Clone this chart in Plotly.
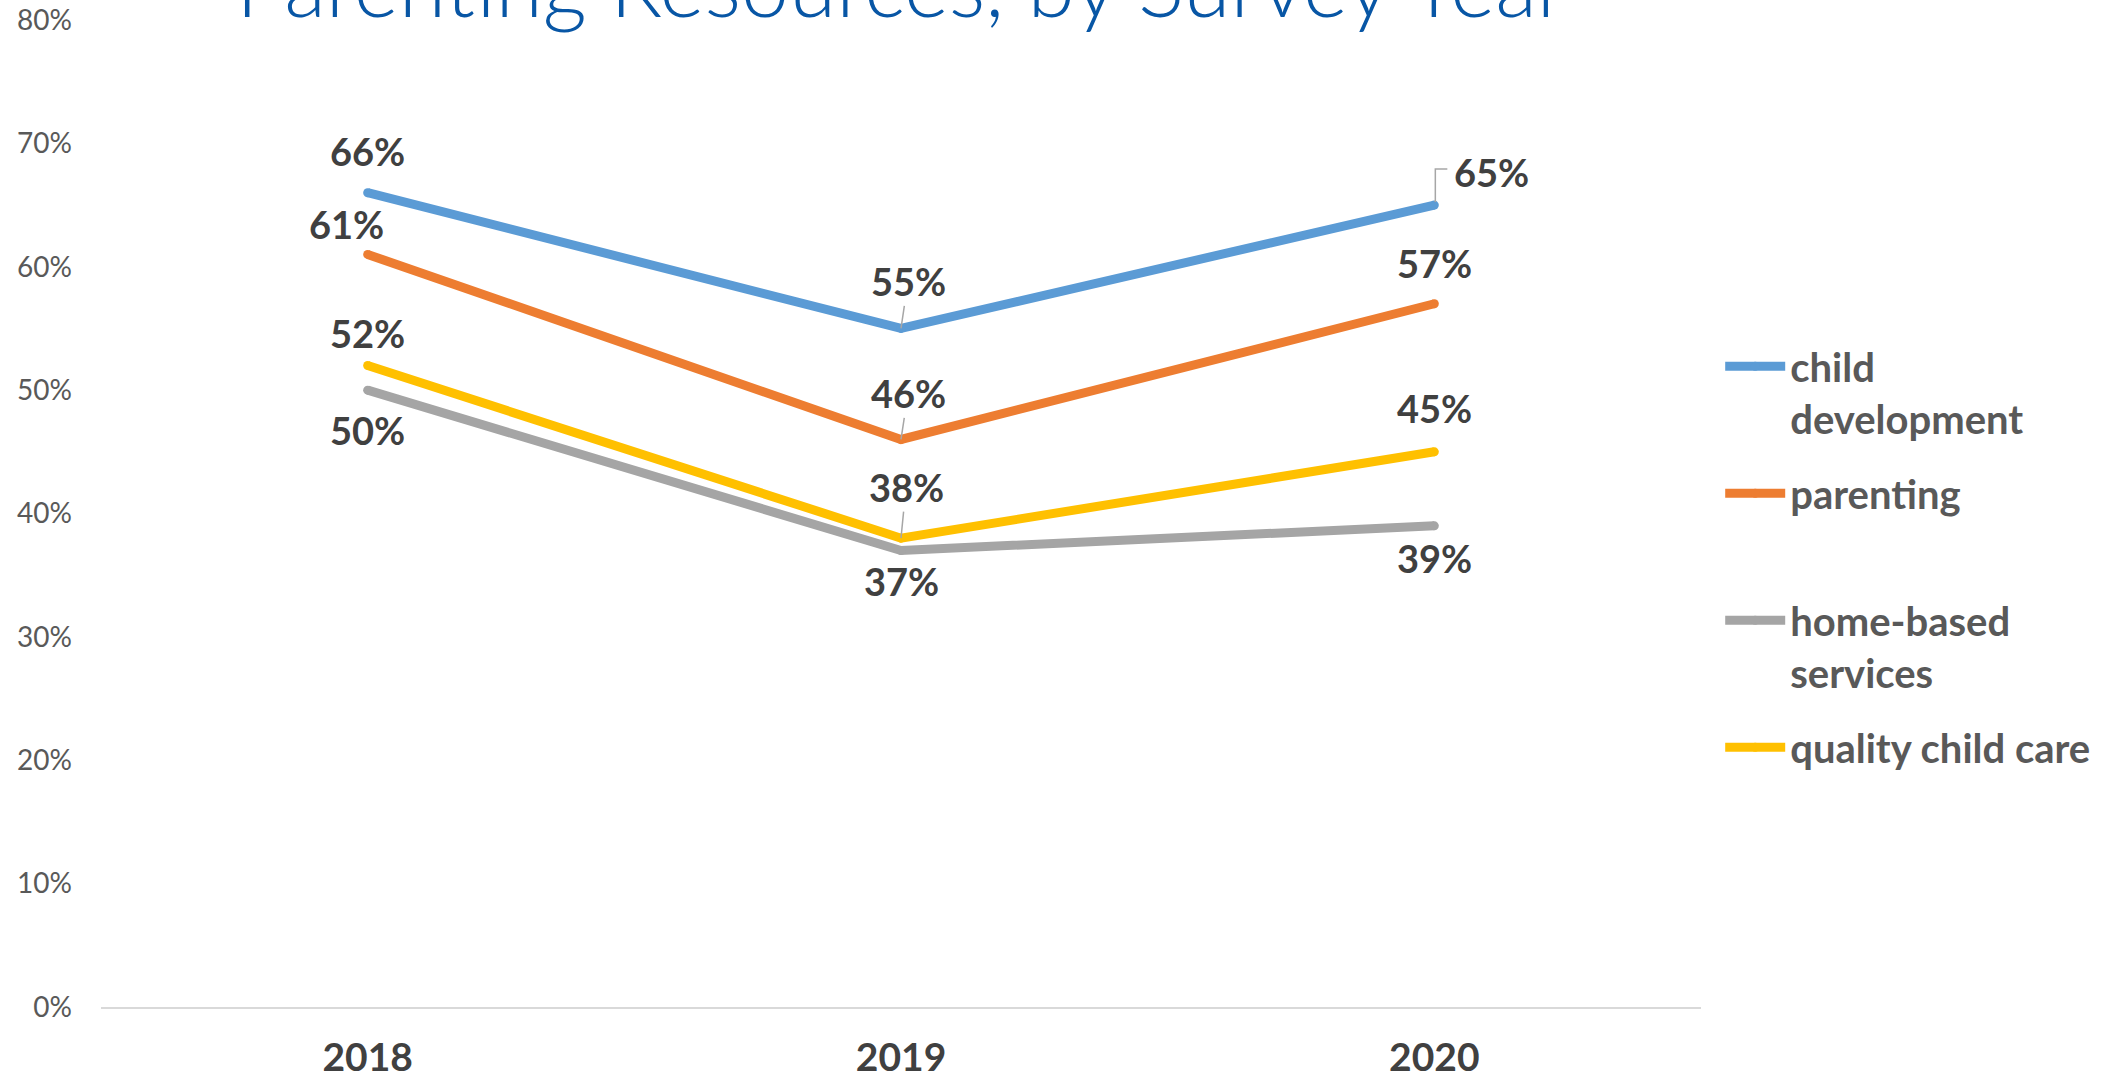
import plotly.graph_objects as go

# Survey years and share of respondents wanting each resource
years = ["2018", "2019", "2020"]
child_development = [0.66, 0.55, 0.65]
parenting = [0.61, 0.46, 0.57]
home_based_services = [0.50, 0.37, 0.39]
quality_child_care = [0.52, 0.38, 0.45]

series_names = ["child<br>development", "parenting<br> ", "home-based<br>services", "quality child care"]
series_values = [child_development, parenting, home_based_services, quality_child_care]
series_colors = ["#5B9BD5", "#ED7D31", "#A5A5A5", "#FFC000"]

y_ticks = [0, 0.1, 0.2, 0.3, 0.4, 0.5, 0.6, 0.7, 0.8]
y_ticktext = ["0%", "10%", "20%", "30%", "40%", "50%", "60%", "70%", "80%"]

# Label placement per series/year: (x pixel shift, y pixel shift, leader line)
label_offsets = [
    [(0, 42, False), (7, 47, True), (57, 33, "elbow")],
    [(-21, 30, False), (7, 46, True), (0, 41, False)],
    [(0, -40, False), (0, -30, False), (0, -32, False)],
    [(0, 32, False), (5, 51, True), (0, 44, False)],
]

LABEL_FONT = dict(family="Lato", size=38, color="#404040", weight="bold")
LEADER = "#A6A6A6"

fig = go.Figure()
for name, vals, color in zip(series_names, series_values, series_colors):
    fig.add_trace(go.Scatter(
        x=years, y=vals, name=name, mode="lines+markers",
        line=dict(color=color, width=9),
        marker=dict(color=color, size=9),
        legendgroup=name, hoverinfo="skip",
    ))

annotations = []
shapes = []
for vals, offsets in zip(series_values, label_offsets):
    # category positions are given by index so numeric-looking names are not misread
    for idx, (v, (dx, dy, leader)) in enumerate(zip(vals, offsets)):
        text = f"{round(v * 100)}%"
        if leader is True:
            annotations.append(dict(
                x=idx, y=v, xref="x", yref="y", text=text, font=LABEL_FONT,
                showarrow=True, arrowhead=0, arrowwidth=1.5, arrowcolor=LEADER,
                ax=dx, ay=-dy, standoff=0,
            ))
        else:
            annotations.append(dict(
                x=idx, y=v, xref="x", yref="y", text=text, font=LABEL_FONT,
                showarrow=False, xshift=dx, yshift=dy,
            ))
            if leader == "elbow":
                shapes.append(dict(
                    type="path", xref="x", yref="y",
                    xsizemode="pixel", ysizemode="pixel",
                    xanchor=idx, yanchor=v,
                    path="M1,3 V36 H13",
                    line=dict(color=LEADER, width=1.5),
                ))

# Chart title, partly above the page edge
annotations.append(dict(
    x=0.5, y=1, xref="paper", yref="paper", xanchor="center", yanchor="bottom",
    text="Parenting Resources, by Survey Year", showarrow=False, yshift=-17,
    font=dict(family="Lato", size=86, color="#0856A5", weight=300),
))

fig.update_layout(
    width=2120, height=1083,
    margin=dict(l=101, r=419, t=20, b=76),
    paper_bgcolor="white", plot_bgcolor="white",
    showlegend=True,
    legend=dict(
        x=1.012, y=0.682, xanchor="left", yanchor="top",
        font=dict(family="Lato", size=40, color="#595959", weight="bold"),
        valign="top", tracegroupgap=20, itemwidth=60,
        bgcolor="rgba(0,0,0,0)",
    ),
    xaxis=dict(
        type="category", range=[-0.5, 2.5], automargin=False,
        showgrid=False, zeroline=False,
        showline=True, linecolor="#D9D9D9", linewidth=2,
        ticks="", ticklabelstandoff=15,
        tickfont=dict(family="Lato", size=39, color="#404040", weight="bold"),
    ),
    yaxis=dict(
        range=[0, 0.8], tickvals=y_ticks, ticktext=y_ticktext, automargin=False,
        showgrid=False, zeroline=False, showline=False,
        ticks="", ticklabelstandoff=28,
        tickfont=dict(family="Lato", size=28, color="#595959"),
    ),
    annotations=annotations,
    shapes=shapes,
)

fig.write_html("out.html")
